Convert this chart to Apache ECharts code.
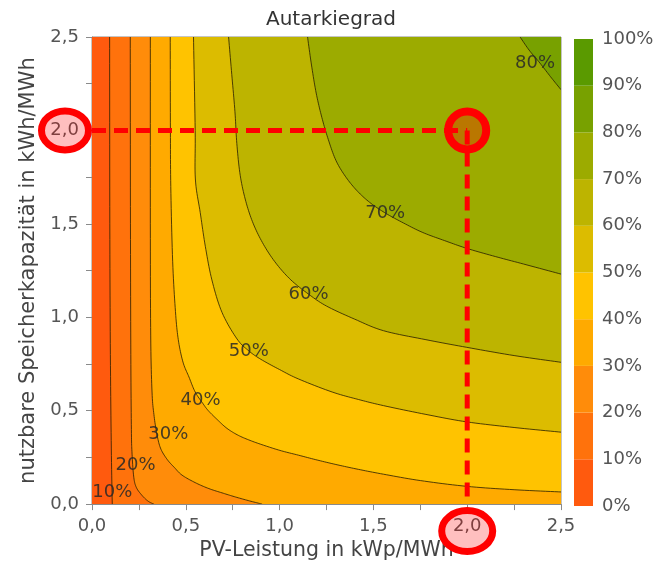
<!DOCTYPE html>
<html><head><meta charset="utf-8">
<script src="https://cdn.jsdelivr.net/npm/echarts@6/dist/echarts.min.js"></script>
<style>html,body{margin:0;padding:0;background:#fff}#c{width:657px;height:566px}</style>
</head><body><div id="c"></div>
<script>
const chartTitle = 'Autarkiegrad';
const xName = 'PV-Leistung in kWp/MWh';
const yName = 'nutzbare Speicherkapazität in kWh/MWh';
const xMin = 0, xMax = 2.5, yMin = 0, yMax = 2.5;
const levels = [10, 20, 30, 40, 50, 60, 70, 80];
const bandColors = ['#ff5a0e', '#ff720c', '#ff8c0a', '#ffaa00', '#ffc300', '#dcbc00', '#bdb400', '#9cab00', '#78a100', '#5a9a00'];
const colorbarSteps = [0, 10, 20, 30, 40, 50, 60, 70, 80, 90];

// contour lines: [PV, storage]
const c10 = [[0.094, 2.5], [0.095, 1.5], [0.098, 0.8], [0.103, 0.3], [0.108, 0]];
const c20 = [[0.204, 2.5], [0.205, 1.5], [0.207, 0.8], [0.21, 0.4], [0.213, 0.28], [0.222, 0.15], [0.236, 0.09], [0.268, 0.045], [0.3, 0.015], [0.33, 0]];
const c30 = [[0.311, 2.5], [0.311, 1.5], [0.313, 0.9], [0.32, 0.6], [0.33, 0.48], [0.345, 0.38], [0.365, 0.3], [0.4, 0.24], [0.44, 0.195], [0.48, 0.155], [0.55, 0.115], [0.623, 0.083], [0.7, 0.058], [0.765, 0.038], [0.84, 0.017], [0.907, 0]];
const c40 = [[0.417, 2.5], [0.418, 2.0], [0.42, 1.7], [0.43, 1.3], [0.445, 1.03], [0.46, 0.88], [0.485, 0.76], [0.517, 0.68], [0.55, 0.6], [0.59, 0.54], [0.62, 0.5], [0.67, 0.45], [0.72, 0.405], [0.78, 0.368], [0.85, 0.338], [0.93, 0.31], [1.01, 0.285], [1.1, 0.262], [1.2, 0.236], [1.3, 0.212], [1.42, 0.186], [1.554, 0.16], [1.75, 0.126], [1.998, 0.095], [2.25, 0.077], [2.5, 0.065]];
const c50 = [[0.541, 2.5], [0.55, 2.0], [0.551, 1.74], [0.577, 1.56], [0.604, 1.38], [0.639, 1.2], [0.693, 1.026], [0.773, 0.884], [0.836, 0.82], [0.9, 0.775], [1.0, 0.72], [1.1, 0.67], [1.28, 0.6], [1.42, 0.56], [1.554, 0.527], [1.78, 0.48], [1.998, 0.44], [2.25, 0.41], [2.5, 0.385]];
const c60 = [[0.728, 2.5], [0.745, 2.3], [0.762, 2.1], [0.772, 1.93], [0.79, 1.76], [0.82, 1.62], [0.86, 1.5], [0.914, 1.39], [0.98, 1.29], [1.06, 1.2], [1.154, 1.124], [1.25, 1.06], [1.4, 0.99], [1.554, 0.928], [1.78, 0.88], [1.998, 0.839], [2.25, 0.795], [2.5, 0.759]];
const c70 = [[1.149, 2.5], [1.17, 2.35], [1.195, 2.2], [1.225, 2.07], [1.26, 1.95], [1.3, 1.84], [1.35, 1.755], [1.41, 1.68], [1.48, 1.615], [1.56, 1.56], [1.65, 1.51], [1.76, 1.455], [1.88, 1.41], [2.0, 1.368], [2.15, 1.325], [2.3, 1.285], [2.5, 1.231]];
const c80 = [[2.282, 2.5], [2.33, 2.43], [2.388, 2.36], [2.45, 2.28], [2.5, 2.218]];
const contours = [c10, c20, c30, c40, c50, c60, c70, c80];
const labelPos = [[0.108, 0.061], [0.232, 0.207], [0.407, 0.376], [0.579, 0.558], [0.836, 0.816], [1.154, 1.124], [1.563, 1.556], [2.362, 2.361]];

const markX = 2.0, markY = 2.0;

const FONT = 'DejaVu Sans';
const fmt = v => v.toFixed(1).replace('.', ',');

// drawing helper: smooth a pixel polyline (Catmull-Rom), rendering only
function smoothPx(px) {
  if (px.length < 3) return px;
  const out = [];
  const n = px.length;
  for (let i = 0; i < n - 1; i++) {
    const p0 = px[Math.max(0, i - 1)], p1 = px[i], p2 = px[i + 1], p3 = px[Math.min(n - 1, i + 2)];
    const steps = 10;
    for (let s = 0; s < steps; s++) {
      const t = s / steps, t2 = t * t, t3 = t2 * t;
      const f = k => 0.5 * ((2 * p1[k]) + (-p0[k] + p2[k]) * t + (2 * p0[k] - 5 * p1[k] + 4 * p2[k] - p3[k]) * t2 + (-p0[k] + 3 * p1[k] - 3 * p2[k] + p3[k]) * t3);
      out.push([f(0), f(1)]);
    }
  }
  out.push(px[n - 1]);
  return out;
}

const chart = echarts.init(document.getElementById('c'), null, {renderer: 'canvas'});
const axisGray = '#8a8a8a';
const option = {
  animation: false,
  backgroundColor: '#fff',
  title: {text: chartTitle, left: 326, textAlign: 'center', top: 5,
    textStyle: {fontFamily: FONT, fontSize: 20, fontWeight: 'normal', color: '#333'}},
  grid: [
    {left: 92, right: 96, top: 37, bottom: 60.5, show: true, borderColor: axisGray, borderWidth: 1, containLabel: false},
    {left: 574, width: 19, top: 39, height: 467, containLabel: false}
  ],
  xAxis: [
    {type: 'value', gridIndex: 0, min: xMin, max: xMax, interval: 0.5,
     name: xName, nameLocation: 'middle', nameGap: 32,
     nameTextStyle: {fontFamily: FONT, fontSize: 20.5, color: '#444'},
     axisLine: {show: true, lineStyle: {color: axisGray}},
     axisTick: {show: true, length: 6, lineStyle: {color: axisGray}},
     minorTick: {show: true, splitNumber: 2, length: 6, lineStyle: {color: axisGray}},
     splitLine: {show: false},
     axisLabel: {formatter: fmt, fontFamily: FONT, fontSize: 18, color: '#555', margin: 13}},
    {type: 'value', gridIndex: 1, min: 0, max: 1, show: false}
  ],
  yAxis: [
    {type: 'value', gridIndex: 0, min: yMin, max: yMax, interval: 0.5,
     name: yName, nameLocation: 'middle', nameGap: 52,
     nameTextStyle: {fontFamily: FONT, fontSize: 21, color: '#444'},
     axisLine: {show: true, lineStyle: {color: axisGray}},
     axisTick: {show: true, length: 6, lineStyle: {color: axisGray}},
     minorTick: {show: true, splitNumber: 2, length: 6, lineStyle: {color: axisGray}},
     splitLine: {show: false},
     axisLabel: {formatter: fmt, fontFamily: FONT, fontSize: 18, color: '#555', margin: 13}},
    {type: 'value', gridIndex: 1, min: 0, max: 100, interval: 10, position: 'right',
     axisLine: {show: false}, axisTick: {show: false}, splitLine: {show: false},
     axisLabel: {formatter: '{value}%', fontFamily: FONT, fontSize: 18, color: '#555', margin: 9}}
  ],
  series: [
    {type: 'custom', name: 'fills', xAxisIndex: 0, yAxisIndex: 0, clip: true, silent: true, z: 1,
     data: bandColors.slice(0, levels.length + 1).map(() => [0, 0]),
     renderItem: (params, api) => {
       const i = params.dataIndex;
       let pts;
       if (i === 0) {
         pts = [[xMin, yMin], [xMax, yMin], [xMax, yMax], [xMin, yMax]].map(p => api.coord(p));
       } else {
         const curve = contours[i - 1];
         pts = smoothPx(curve.map(p => api.coord(p)));
         const last = curve[curve.length - 1];
         if (last[1] <= yMin + 1e-6) pts.push(api.coord([xMax, yMin]));
         pts.push(api.coord([xMax, yMax]));
       }
       return {type: 'polygon', shape: {points: pts}, style: {fill: bandColors[i]}};
     }},
    {type: 'custom', name: 'lines', xAxisIndex: 0, yAxisIndex: 0, clip: true, silent: true, z: 2,
     data: contours.map(() => [0, 0]),
     renderItem: (params, api) => ({type: 'polyline', shape: {points: smoothPx(contours[params.dataIndex].map(p => api.coord(p)))},
       style: {stroke: 'rgba(40,30,0,0.8)', lineWidth: 1, fill: null}})},
    {type: 'custom', name: 'labels', xAxisIndex: 0, yAxisIndex: 0, clip: false, silent: true, z: 3,
     data: labelPos.map(() => [0, 0]),
     renderItem: (params, api) => {
       const p = api.coord(labelPos[params.dataIndex]);
       return {type: 'text', x: p[0], y: p[1], style: {text: levels[params.dataIndex] + '%', fill: 'rgba(40,40,40,0.85)',
         fontSize: 18, fontFamily: FONT, align: 'center', verticalAlign: 'middle'}};
     }},
    {type: 'custom', name: 'mark', xAxisIndex: 0, yAxisIndex: 0, clip: false, silent: true, z: 10,
     data: [[markX, markY]],
     renderItem: (params, api) => {
       const p = api.coord([markX, markY]);
       const p0 = api.coord([xMin, markY]);
       const pb = api.coord([markX, yMin]);
       const dash = {stroke: '#ff0000', lineWidth: 5, lineDash: [14, 8], fill: null};
       return {type: 'group', children: [
         {type: 'polyline', shape: {points: [p0, p]}, style: dash},
         {type: 'polyline', shape: {points: [p, pb]}, style: dash},
         {type: 'circle', shape: {cx: p[0], cy: p[1], r: 19}, style: {fill: 'rgba(255,0,0,0.3)', stroke: '#ff0000', lineWidth: 8}},
         {type: 'ellipse', shape: {cx: p0[0] - 27, cy: p0[1], rx: 23.5, ry: 19.5}, style: {fill: 'rgba(255,0,0,0.25)', stroke: '#ff0000', lineWidth: 7}},
         {type: 'ellipse', shape: {cx: pb[0], cy: pb[1] + 27, rx: 25.5, ry: 20.5}, style: {fill: 'rgba(255,0,0,0.25)', stroke: '#ff0000', lineWidth: 7}}
       ]};
     }},
    {type: 'custom', name: 'colorbar', xAxisIndex: 1, yAxisIndex: 1, clip: false, silent: true,
     data: colorbarSteps.map(v => [0, v]),
     renderItem: (params, api) => {
       const v = colorbarSteps[params.dataIndex];
       const a = api.coord([0, v + 10]);
       const b = api.coord([1, v]);
       return {type: 'rect', shape: {x: a[0], y: a[1], width: b[0] - a[0], height: b[1] - a[1]}, style: {fill: bandColors[params.dataIndex]}};
     }}
  ]
};
chart.setOption(option);
</script></body></html>
